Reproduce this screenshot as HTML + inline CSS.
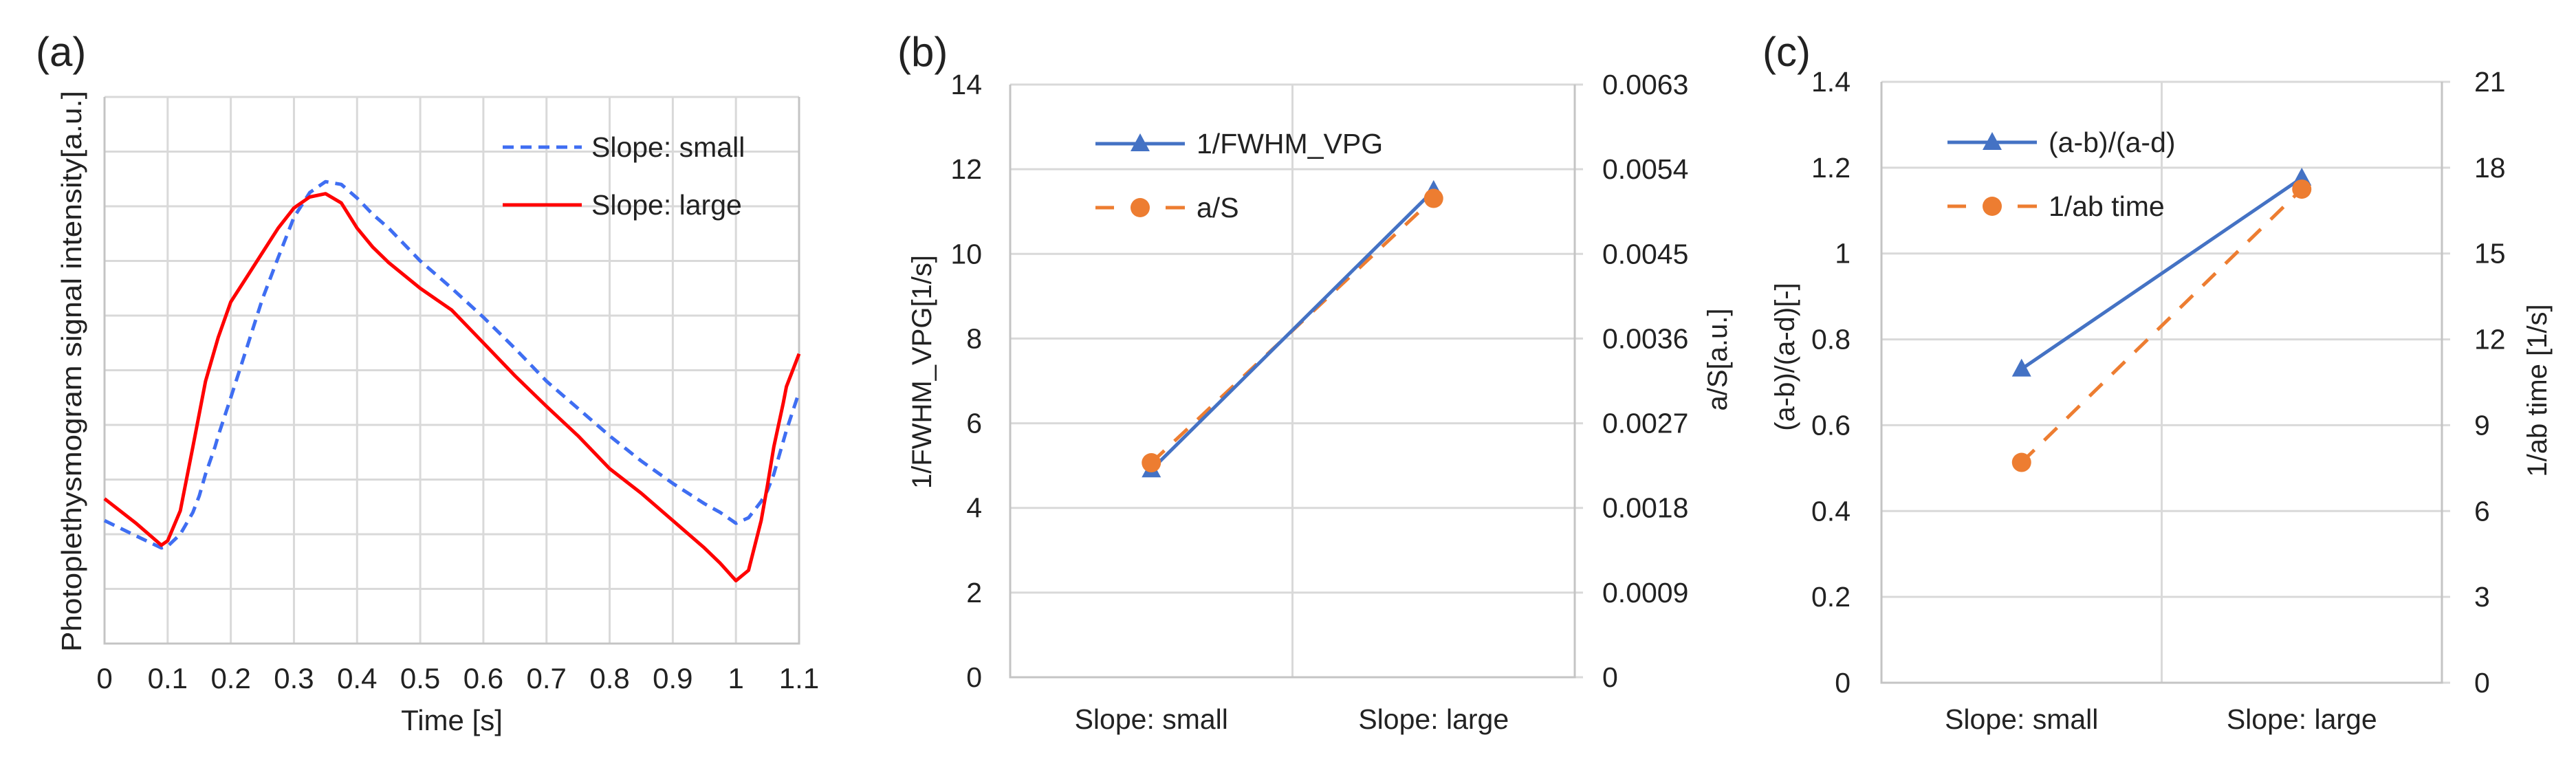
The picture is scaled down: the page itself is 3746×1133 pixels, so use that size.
<!DOCTYPE html>
<html><head><meta charset="utf-8"><style>
html,body{margin:0;padding:0;background:#fff;}
svg{display:block;font-family:"Liberation Sans",Arial,sans-serif;}
</style></head><body>
<svg id="fig" width="3746" height="1133" viewBox="0 0 3746 1133"></svg>
<script>
// ---------- Panel (a) data ----------
const aTimes = [0,0.05,0.09,0.1,0.12,0.14,0.15,0.16,0.175,0.18,0.2,0.225,0.25,0.275,0.3,0.325,0.35,0.375,0.4,0.425,0.45,0.5,0.55,0.6,0.65,0.7,0.75,0.8,0.85,0.9,0.95,0.975,1.0,1.02,1.04,1.05,1.06,1.075,1.08,1.1];
const aSmall = [2.25,1.97,1.75,1.78,2.0,2.4,2.7,3.1,3.6,3.8,4.5,5.4,6.3,7.06,7.8,8.25,8.45,8.4,8.15,7.85,7.6,7.0,6.5,5.97,5.4,4.8,4.3,3.8,3.34,2.93,2.56,2.4,2.2,2.3,2.6,2.8,3.1,3.7,3.9,4.6];
const aLarge = [2.65,2.2,1.8,1.88,2.43,3.6,4.2,4.8,5.4,5.6,6.25,6.7,7.15,7.6,7.97,8.17,8.23,8.06,7.6,7.25,6.97,6.5,6.1,5.5,4.9,4.34,3.8,3.2,2.75,2.25,1.75,1.47,1.15,1.34,2.25,2.9,3.6,4.4,4.7,5.3];
const aXTicks = ["0","0.1","0.2","0.3","0.4","0.5","0.6","0.7","0.8","0.9","1","1.1"];
// ---------- Panel (b) data ----------
const bCats = ["Slope: small","Slope: large"];
const bFwhm = [4.9, 11.5];
const bAS = [0.00228, 0.00509];
const bLeftTicks = ["0","2","4","6","8","10","12","14"];
const bRightTicks = ["0","0.0009","0.0018","0.0027","0.0036","0.0045","0.0054","0.0063"];
// ---------- Panel (c) data ----------
const cCats = ["Slope: small","Slope: large"];
const cRatio = [0.731, 1.176];
const cAbTime = [7.7, 17.25];
const cLeftTicks = ["0","0.2","0.4","0.6","0.8","1","1.2","1.4"];
const cRightTicks = ["0","3","6","9","12","15","18","21"];

const NS="http://www.w3.org/2000/svg";
const svg=document.getElementById('fig');
function mk(tag,attrs,parent,text){const e=document.createElementNS(NS,tag);for(const k in attrs)e.setAttribute(k,attrs[k]);if(text!==undefined)e.textContent=text;(parent||svg).appendChild(e);return e;}
const GRID="#d9d9d9", AXIS="#c4c4c4", TXT="#222";

// ================= Panel (a) =================
(function(){
  const L=152,R=1162,T=141,B=936;
  const xs=t=>L+(t/1.1)*(R-L);
  const ys=v=>B-(v/10)*(B-T);
  const g=mk('g',{});
  
  
  for(let i=0;i<=10;i++){const l=mk('line',{x1:L,x2:R,y1:ys(i),y2:ys(i),stroke:GRID,'stroke-width':3},g);
    
    }
  aXTicks.forEach((lab,i)=>{const t=i*0.1;const l=mk('line',{x1:xs(t),x2:xs(t),y1:T,y2:B,stroke:GRID,'stroke-width':3},g);
    
    
    const tx=mk('text',{x:xs(t),y:1001,'font-size':42,'text-anchor':'middle',fill:TXT},g,lab);
    
    });
  const ax=mk('path',{d:`M${L},${T}V${B}H${R}V${T}`,fill:'none',stroke:AXIS,'stroke-width':3},g);
  
  
  const pts=arr=>aTimes.map((t,i)=>xs(t).toFixed(1)+','+ys(arr[i]).toFixed(1)).join(' ');
  const s=mk('polyline',{points:pts(aSmall),fill:'none',stroke:'#3f6ef2','stroke-width':5,'stroke-dasharray':'16 10','stroke-linejoin':'round'},g);
  
  
  const r=mk('polyline',{points:pts(aLarge),fill:'none',stroke:'#ff0000','stroke-width':5,'stroke-linejoin':'round'},g);
  
  
  // legend
  const l1=mk('line',{x1:731,x2:846,y1:214,y2:214,stroke:'#3f6ef2','stroke-width':5,'stroke-dasharray':'16 10'},g);
  
  
  const t1=mk('text',{x:860,y:228,'font-size':41,fill:TXT},g,'Slope: small');
  
  
  const l2=mk('line',{x1:731,x2:846,y1:298,y2:298,stroke:'#ff0000','stroke-width':5},g);
  
  
  const t2=mk('text',{x:860,y:312,'font-size':41,fill:TXT},g,'Slope: large');
  
  
  const xt=mk('text',{x:657,y:1062,'font-size':42,'text-anchor':'middle',fill:TXT},g,'Time [s]');
  
  
  const yt=mk('text',{x:0,y:0,'font-size':41,'text-anchor':'middle',fill:TXT,transform:'translate(118,540) rotate(-90)',textLength:816,lengthAdjust:'spacingAndGlyphs'},g,'Photoplethysmogram signal intensity[a.u.]');
  
  
  const pl=mk('text',{x:52,y:96,'font-size':60,fill:TXT},g,'(a)');
  
  
})();

// ================= Dual-axis category panels =================
function dualPanel(o){
  const {L,R,T,B}=o;
  const g=mk('g',{});
  
  
  const n=o.leftTicks.length-1;
  const yl=v=>B-(v/o.leftMax)*(B-T);
  const yr=v=>B-(v/o.rightMax)*(B-T);
  const xc=i=>L+(i+0.5)/o.cats.length*(R-L);
  for(let i=0;i<=n;i++){const y=B-i/n*(B-T);
    const l=mk('line',{x1:L,x2:R+12,y1:y,y2:y,stroke:GRID,'stroke-width':3},g);
    
    
    const tl=mk('text',{x:o.leftLabelX,y:y+14,'font-size':41,'text-anchor':'end',fill:TXT},g,o.leftTicks[i]);
    
    
    const tr=mk('text',{x:o.rightLabelX,y:y+14,'font-size':41,fill:TXT},g,o.rightTicks[i]);
    
    }
  const mid=mk('line',{x1:(L+R)/2,x2:(L+R)/2,y1:T,y2:B,stroke:GRID,'stroke-width':3},g);
  
  
  const ax=mk('path',{d:`M${L},${T}V${B}H${R}V${T}`,fill:'none',stroke:AXIS,'stroke-width':3},g);
  
  
  o.cats.forEach((c,i)=>{const t=mk('text',{x:xc(i),y:1060,'font-size':41,'text-anchor':'middle',fill:TXT},g,c);
    
    });
  // series 2 (orange dashed, right axis)
  const op=o.s2.map((v,i)=>xc(i)+','+yr(v)).join(' ');
  const ol=mk('polyline',{points:op,fill:'none',stroke:'#ED7D31','stroke-width':5,'stroke-dasharray':'26 20'},g);
  
  
  // series 1 (blue solid, left axis)
  const bp=o.s1.map((v,i)=>xc(i)+','+yl(v)).join(' ');
  const bl=mk('polyline',{points:bp,fill:'none',stroke:'#4472C4','stroke-width':5},g);
  
  
  o.s1.forEach((v,i)=>{const x=xc(i),y=yl(v);
    const tri=mk('path',{d:`M${x},${y-15}L${x+14},${y+11}L${x-14},${y+11}Z`,fill:'#4472C4'},g);
    
    });
  o.s2.forEach((v,i)=>{const c=mk('circle',{cx:xc(i),cy:yr(v),r:14,fill:'#ED7D31'},g);
    
    });
  // legend
  const lx=o.legX, ly1=o.legY, ly2=o.legY+93;
  const lg1=mk('line',{x1:lx,x2:lx+130,y1:ly1,y2:ly1,stroke:'#4472C4','stroke-width':5},g);
  
  
  const lt=mk('path',{d:`M${lx+65},${ly1-15}L${lx+79},${ly1+11}L${lx+51},${ly1+11}Z`,fill:'#4472C4'},g);
  
  
  const lg2=mk('line',{x1:lx,x2:lx+130,y1:ly2,y2:ly2,stroke:'#ED7D31','stroke-width':5,'stroke-dasharray':'27 75'},g);
  
  
  const lg2b=mk('line',{x1:lx+102,x2:lx+130,y1:ly2,y2:ly2,stroke:'#ED7D31','stroke-width':5},g);
  
  
  const lc=mk('circle',{cx:lx+65,cy:ly2,r:14,fill:'#ED7D31'},g);
  
  
  const t1=mk('text',{x:lx+147,y:ly1+14,'font-size':41,fill:TXT},g,o.s1Label);
  
  
  const t2=mk('text',{x:lx+147,y:ly2+14,'font-size':41,fill:TXT},g,o.s2Label);
  
  
  const yt=mk('text',{x:0,y:0,'font-size':40,'text-anchor':'middle',fill:TXT,transform:`translate(${o.ltX},${o.ltY}) rotate(-90)`},g,o.leftTitle);
  
  
  const rt=mk('text',{x:0,y:0,'font-size':40,'text-anchor':'middle',fill:TXT,transform:`translate(${o.rtX},${o.rtY}) rotate(-90)`},g,o.rightTitle);
  
  
  const pl=mk('text',{x:o.plX,y:96,'font-size':60,fill:TXT},g,o.panelLabel);
  
  
}

dualPanel({name:'panel-b',L:1469,R:2290,T:123,B:985,cats:bCats,s1:bFwhm,s2:bAS,
  leftMax:14,rightMax:0.0063,leftTicks:bLeftTicks,rightTicks:bRightTicks,
  leftLabelX:1428,rightLabelX:2330,s1Name:'fwhm-vpg',s2Name:'a-over-s',
  s1Label:'1/FWHM_VPG',s2Label:'a/S',legX:1593,legY:209,
  leftTitle:'1/FWHM_VPG[1/s]',ltX:1354,ltY:541,rightTitle:'a/S[a.u.]',rtX:2511,rtY:523,
  plX:1305,panelLabel:'(b)'});
dualPanel({name:'panel-c',L:2736,R:3551,T:119,B:993,cats:cCats,s1:cRatio,s2:cAbTime,
  leftMax:1.4,rightMax:21,leftTicks:cLeftTicks,rightTicks:cRightTicks,
  leftLabelX:2691,rightLabelX:3598,s1Name:'ab-ad-ratio',s2Name:'ab-time',
  s1Label:'(a-b)/(a-d)',s2Label:'1/ab time',legX:2832,legY:207,
  leftTitle:'(a-b)/(a-d)[-]',ltX:2609,ltY:519,rightTitle:'1/ab time [1/s]',rtX:3703,rtY:568,
  plX:2563,panelLabel:'(c)'});
</script>
</body></html>
